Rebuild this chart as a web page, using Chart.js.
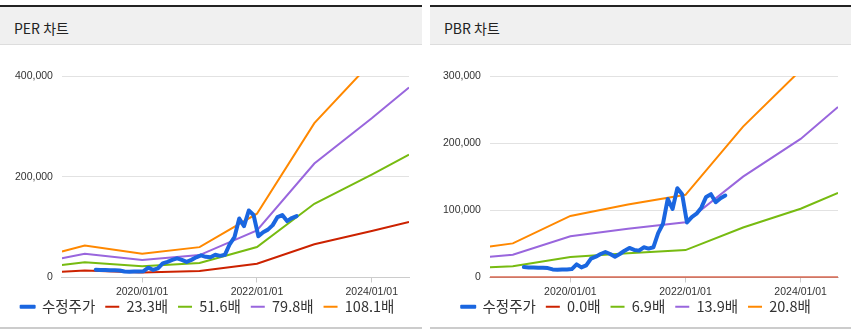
<!DOCTYPE html>
<html>
<head>
<meta charset="utf-8">
<script src="https://cdn.jsdelivr.net/npm/chart.js@4.4.1/dist/chart.umd.min.js"></script>
<style>
body{margin:0;background:#fff;width:858px;height:334px;overflow:hidden;font-family:"Noto Sans CJK KR",sans-serif}
.panel{position:absolute;top:5px;border-top:2px solid #222;border-bottom:2px solid #ccc}
.hd{height:32px;padding:5px 0 0 14px;line-height:32px;background:#f0f0f0;border-bottom:1px solid #ddd;font-size:14px;color:#222}
.cv{position:relative;height:282px}
</style>
</head>
<body>
<div class="panel" style="left:0;width:422px">
  <div class="hd">PER 차트</div>
  <div class="cv"><canvas id="perChart"></canvas></div>
</div>
<div class="panel" style="left:430px;width:421px">
  <div class="hd">PBR 차트</div>
  <div class="cv"><canvas id="pbrChart"></canvas></div>
</div>
<script>
// band points (year-start estimates + first/last)
const bandDates = ['2018-08-08','2019-01-01','2020-01-01','2021-01-01','2022-01-01','2023-01-01','2024-01-01','2024-08-25'];

// adjusted price, monthly
const priceDates = ['2019-03-10','2019-04-10','2019-05-10','2019-06-10','2019-07-10','2019-08-10','2019-09-10','2019-10-10','2019-11-10','2019-12-10',
  '2020-01-10','2020-02-10','2020-03-10','2020-04-10','2020-05-10','2020-06-10','2020-07-10','2020-08-10','2020-09-10','2020-10-10','2020-11-10','2020-12-10',
  '2021-01-10','2021-02-10','2021-03-10','2021-04-10','2021-05-10','2021-06-10','2021-07-10','2021-08-10','2021-09-10','2021-10-10','2021-11-10','2021-12-10',
  '2022-01-10','2022-02-10','2022-03-10','2022-04-10','2022-05-10','2022-06-10','2022-07-10','2022-08-10','2022-09-10'];
const priceValues = [15500,15000,15000,14500,14500,14000,12000,11500,12000,12000,
  12500,19500,15000,18000,28000,31000,35000,38000,35000,31000,35000,40000,
  44000,41000,40000,45000,43000,45000,66000,80000,117000,102000,133000,124000,
  82000,90000,95000,104000,120000,124000,112000,118000,122000];

const perLabels = ['23.3배','51.6배','79.8배','108.1배'];
const per233 = [11200,13700,10100,13000,27300,66000,92300,110100];
const per516 = [24700,30400,22400,28800,60500,146300,204300,243800];
const per798 = [38200,47000,34700,44500,93500,226200,316000,377100];
const per1081 = [51700,63700,47000,60300,126700,306500,428100,510800];

const pbrLabels = ['0.0배','6.9배','13.9배','20.8배'];
const pbr00 = [0,0,0,0,0,0,0,0];
const pbr69 = [15300,16800,30400,36000,40800,74500,102400,126000];
const pbr139 = [30900,33900,61300,72600,82300,150100,206300,253800];
const pbr208 = [46200,50800,91700,108600,123100,224600,308700,379800];

const xTickYears = [2020, 2022, 2024];
const perYMax = 400000, perYStep = 200000;
const pbrYMax = 300000, pbrYStep = 100000;

const priceColor = '#1a66e0';
const bandColors = ['#cc2200', '#77bb11', '#9966dd', '#ff8800'];

function toYear(s) {
    const [y, m, d] = s.split('-').map(Number);
    return y + (m - 1) / 12 + (d - 1) / 365;
}

// pull the legend up so it tucks under the x labels
const legendShift = {
    id: 'legendShift',
    afterLayout(chart) {
        const lg = chart.legend;
        if (!lg) return;
        lg.top -= 11.6;
        lg.bottom -= 11.6;
    }
};

function makeChart(id, bandLabels, bandSeries, yMax, yStep, padLeft) {
    const ctx = document.getElementById(id);
    const xs = bandDates.map(toYear);

    const datasets = [{
        label: '수정주가',
        data: priceDates.map((d, i) => ({ x: toYear(d), y: priceValues[i] })),
        borderColor: priceColor,
        backgroundColor: priceColor,
        borderWidth: 4,
        borderJoinStyle: 'round',
        borderCapStyle: 'round',
        pointRadius: 0
    }];
    bandSeries.forEach((vals, k) => {
        datasets.push({
            label: bandLabels[k],
            data: vals.map((v, i) => ({ x: xs[i], y: v })),
            borderColor: bandColors[k],
            backgroundColor: bandColors[k],
            borderWidth: 2,
            pointRadius: 0
        });
    });

    return new Chart(ctx, {
        type: 'line',
        data: { datasets: datasets },
        plugins: [legendShift],
        options: {
            responsive: true,
            maintainAspectRatio: false,
            animation: false,
            layout: { padding: { left: padLeft, right: 13, top: 31, bottom: -8.6 } },
            plugins: {
                tooltip: { enabled: false },
                legend: {
                    position: 'bottom',
                    labels: {
                        boxWidth: 14,
                        boxHeight: 2,
                        padding: 10,
                        color: '#333',
                        font: { family: '"Noto Sans CJK KR", sans-serif', size: 14.5 },
                        generateLabels: function(chart) {
                            const items = Chart.defaults.plugins.legend.labels.generateLabels(chart);
                            return items.map((it, i) => Object.assign(it, {
                                fillStyle: it.strokeStyle,
                                lineWidth: i === 0 ? 2 : 0
                            }));
                        }
                    }
                }
            },
            scales: {
                x: {
                    type: 'linear',
                    min: xs[0],
                    max: xs[xs.length - 1],
                    afterBuildTicks: function(scale) {
                        scale.ticks = xTickYears.map(v => ({ value: v }));
                    },
                    grid: { drawOnChartArea: false, drawTicks: true, tickLength: 5, color: '#ccc' },
                    border: { display: true, color: '#ccc' },
                    ticks: {
                        autoSkip: false,
                        maxRotation: 0,
                        padding: 3,
                        color: '#333',
                        font: { family: '"Liberation Sans", Arial, sans-serif', size: 10.5 },
                        callback: function(value) { return value + '/01/01'; }
                    }
                },
                y: {
                    min: 0,
                    max: yMax,
                    grid: { drawTicks: false, color: '#e2e2e2' },
                    border: { display: false },
                    ticks: {
                        stepSize: yStep,
                        padding: 9,
                        color: '#333',
                        font: { family: '"Liberation Sans", Arial, sans-serif', size: 10.5 },
                        callback: function(value) { return value.toLocaleString('en-US'); }
                    }
                }
            }
        }
    });
}

makeChart('perChart', perLabels, [per233, per516, per798, per1081], perYMax, perYStep, 6);
makeChart('pbrChart', pbrLabels, [pbr00, pbr69, pbr139, pbr208], pbrYMax, pbrYStep, 4);
</script>
</body>
</html>
